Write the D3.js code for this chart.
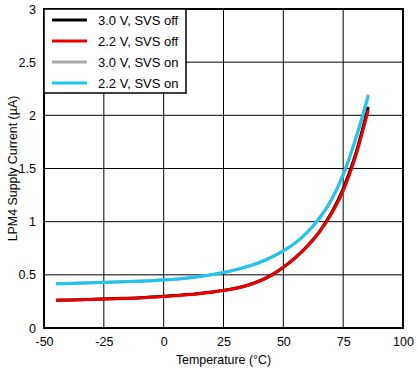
<!DOCTYPE html>
<html>
<head>
<meta charset="utf-8">
<script src="https://cdn.jsdelivr.net/npm/d3@7"></script>
<style>
  body { margin: 0; background: #fff; }
  text { font-family: "Liberation Sans", Arial, sans-serif; }
</style>
</head>
<body>
<div class="canva"></div>
<script>
// temperatures (°C) where curves were sampled
var temps = [-45, -40, -30, -20, -10, 0, 10, 20, 25, 30, 35, 40, 45, 50, 55, 60, 65, 70, 75, 80, 85.5];

// supply current (µA)
var off30 = [0.262, 0.264, 0.27, 0.277, 0.285, 0.298, 0.314, 0.339, 0.354, 0.374, 0.402, 0.442, 0.497, 0.572, 0.662, 0.772, 0.905, 1.08, 1.31, 1.62, 2.08];
var off22 = [0.26, 0.262, 0.268, 0.275, 0.283, 0.296, 0.312, 0.337, 0.352, 0.372, 0.40, 0.44, 0.495, 0.57, 0.66, 0.767, 0.90, 1.07, 1.29, 1.60, 2.05];
var on30 = [0.416, 0.419, 0.426, 0.433, 0.441, 0.453, 0.471, 0.501, 0.523, 0.548, 0.579, 0.617, 0.666, 0.726, 0.801, 0.901, 1.032, 1.203, 1.445, 1.765, 2.195];
var on22 = [0.415, 0.418, 0.425, 0.432, 0.44, 0.452, 0.47, 0.50, 0.522, 0.547, 0.578, 0.616, 0.665, 0.725, 0.80, 0.90, 1.03, 1.20, 1.44, 1.76, 2.18];

var seriesNames = ["3.0 V, SVS off", "2.2 V, SVS off", "3.0 V, SVS on", "2.2 V, SVS on"];
var seriesColors = ["#000000", "#ee0000", "#aaaaaa", "#1cc6f0"];
var seriesValues = [off30, off22, on30, on22];

var xTicks = [-50, -25, 0, 25, 50, 75, 100];
var yTicks = [0, 0.5, 1, 1.5, 2, 2.5, 3];

const svg = d3.select(".canva").append("svg")
    .attr("width", 418)
    .attr("height", 368);

const margin = {top: 9, right: 15, bottom: 40, left: 44};
const graphWidth = 418 - margin.left - margin.right;
const graphHeight = 368 - margin.top - margin.bottom;

const mainCanvas = svg.append("g")
    .attr("transform", `translate(${margin.left}, ${margin.top})`);

var x = d3.scaleLinear().domain([-50, 100]).range([0, graphWidth]);
var y = d3.scaleLinear().domain([0, 3]).range([graphHeight, 0]);

// grid
mainCanvas.append("g")
    .selectAll("line")
    .data(xTicks.slice(1, -1))
    .enter()
    .append("line")
    .attr("x1", d => x(d)).attr("x2", d => x(d))
    .attr("y1", 0).attr("y2", graphHeight)
    .attr("stroke", "#000").attr("stroke-width", 1);

mainCanvas.append("g")
    .selectAll("line")
    .data(yTicks.slice(1, -1))
    .enter()
    .append("line")
    .attr("x1", 0).attr("x2", graphWidth)
    .attr("y1", d => y(d)).attr("y2", d => y(d))
    .attr("stroke", "#000").attr("stroke-width", 1);

// curves
var valueLine = d3.line()
    .x((d, i) => x(temps[i]))
    .y(d => y(d))
    .curve(d3.curveMonotoneX);

mainCanvas.selectAll(".curve")
    .data(seriesValues)
    .enter()
    .append("path")
    .attr("class", "curve")
    .attr("fill", "none")
    .attr("stroke", (d, i) => seriesColors[i])
    .attr("stroke-width", 3)
    .attr("d", valueLine);

// frame
mainCanvas.append("rect")
    .attr("width", graphWidth)
    .attr("height", graphHeight)
    .attr("fill", "none")
    .attr("stroke", "#000")
    .attr("stroke-width", 2);

// axes
var xAxis = d3.axisBottom(x).tickValues(xTicks).tickSize(0).tickPadding(9).tickFormat(d => String(d));
var yAxis = d3.axisLeft(y).tickValues(yTicks).tickSize(0).tickPadding(8).tickFormat(d => String(d));

var gx = mainCanvas.append("g")
    .attr("transform", "translate(0, " + graphHeight + ")")
    .call(xAxis);
var gy = mainCanvas.append("g").call(yAxis);
[gx, gy].forEach(g => {
    g.select(".domain").remove();
    g.selectAll("text").style("font-size", "12.5px").attr("fill", "#000")
        .style("font-family", "'Liberation Sans', Arial, sans-serif");
});

svg.append("text")
    .attr("x", margin.left + graphWidth / 2)
    .attr("y", 364)
    .attr("text-anchor", "middle")
    .style("font-size", "12.4px")
    .text("Temperature (°C)");

svg.append("text")
    .attr("transform", `translate(17, ${margin.top + graphHeight / 2}) rotate(-90)`)
    .attr("text-anchor", "middle")
    .style("font-size", "12.4px")
    .text("LPM4 Supply Current (µA)");

// legend
const legend = mainCanvas.append("g");
legend.append("rect")
    .attr("x", 0).attr("y", 0)
    .attr("width", 142).attr("height", 84)
    .attr("fill", "#fff")
    .attr("stroke", "#000")
    .attr("stroke-width", 1.5);

var rows = legend.selectAll(".row")
    .data(seriesNames)
    .enter()
    .append("g")
    .attr("transform", (d, i) => `translate(0, ${11 + i * 21})`);
rows.append("line")
    .attr("x1", 8).attr("x2", 43)
    .attr("y1", 0).attr("y2", 0)
    .attr("stroke", (d, i) => seriesColors[i])
    .attr("stroke-width", 3);
rows.append("text")
    .attr("x", 54).attr("y", 5)
    .style("font-size", "13px")
    .text(d => d);
</script>
</body>
</html>
